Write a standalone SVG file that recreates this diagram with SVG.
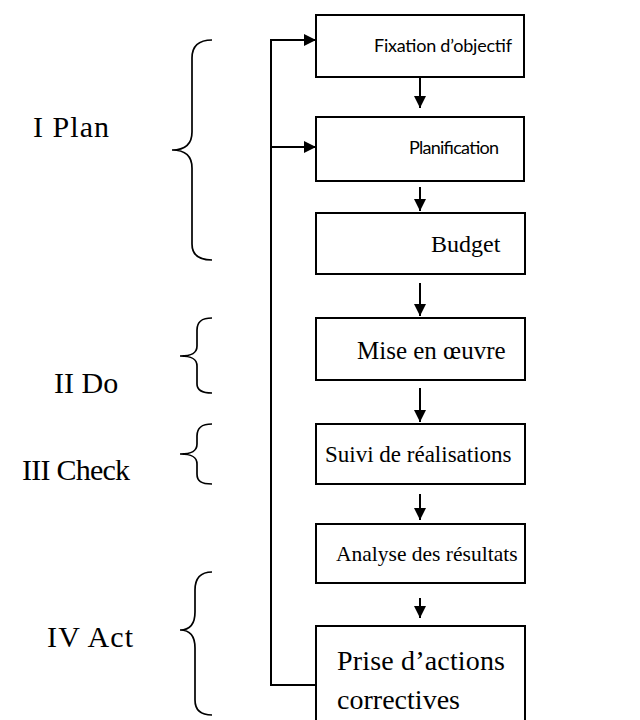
<svg xmlns="http://www.w3.org/2000/svg" width="640" height="720" viewBox="0 0 640 720">
  <style>
    .box { fill: #ffffff; stroke: #000000; stroke-width: 2; }
    .line { fill: none; stroke: #000000; stroke-width: 2; }
    .brace { fill: none; stroke: #000000; stroke-width: 1.7; }
    .serif { font-family: "Liberation Serif", "Times New Roman", serif; fill: #000000; }
    .sans { font-family: Lato, "Noto Sans", sans-serif; font-size: 18px; fill: #000000; }
    .phase { font-family: "Liberation Serif", "Times New Roman", serif; font-size: 30px; fill: #000000; }
  </style>
  <defs>
    <marker id="head" viewBox="0 0 12 12" refX="12" refY="6" markerWidth="12" markerHeight="12" markerUnits="userSpaceOnUse" orient="auto">
      <path d="M0,0 L12,6 L0,12 Z" fill="#000000"/>
    </marker>
  </defs>
  <rect width="640" height="720" fill="#ffffff"/>

  <!-- phase labels with braces -->
  <g id="phase-plan">
    <text class="phase" x="33" y="137" textLength="76">I Plan</text>
    <path class="brace" d="M212,40 C198,40 192,46 192,58 L192,132 C192,144 186,150 172,150 C186,150 192,156 192,168 L192,244 C192,254 198,260 212,260"/>
  </g>
  <g id="phase-do">
    <text class="phase" x="54" y="393">II Do</text>
    <path class="brace" d="M212,318 C201,318 197,322 197,330 L197,346 C197,353 192,356 180,356 C192,356 197,359 197,366 L197,384 C197,390 201,393 212,393"/>
  </g>
  <g id="phase-check">
    <text class="phase" x="22" y="480" textLength="108">III Check</text>
    <path class="brace" d="M212,424 C201,424 197,428 197,436 L197,444 C197,451 192,454 180,454 C192,454 197,457 197,464 L197,474 C197,481 201,484 212,484"/>
  </g>
  <g id="phase-act">
    <text class="phase" x="47" y="647" textLength="86">IV Act</text>
    <path class="brace" d="M212,572 C200,572 195,578 195,590 L195,612 C195,624 190,630 180,630 C190,630 195,636 195,648 L195,700 C195,710 200,715 212,715"/>
  </g>

  <!-- process steps -->
  <g id="step-objectif">
    <rect class="box" x="316" y="15" width="208" height="62"/>
    <text class="sans" x="374" y="52" textLength="138">Fixation d’objectif</text>
  </g>
  <g id="step-planification">
    <rect class="box" x="316" y="117" width="208" height="64"/>
    <text class="sans" x="409" y="154" textLength="90">Planification</text>
  </g>
  <g id="step-budget">
    <rect class="box" x="316" y="213" width="209" height="61"/>
    <text class="serif" x="431" y="252" font-size="24">Budget</text>
  </g>
  <g id="step-mise-en-oeuvre">
    <rect class="box" x="316" y="318" width="209" height="62"/>
    <text class="serif" x="357" y="359" font-size="25">Mise en œuvre</text>
  </g>
  <g id="step-suivi">
    <rect class="box" x="316" y="424" width="209" height="60"/>
    <text class="serif" x="325" y="462" font-size="23">Suivi de réalisations</text>
  </g>
  <g id="step-analyse">
    <rect class="box" x="316" y="524" width="209" height="59"/>
    <text class="serif" x="336" y="561" font-size="21.5">Analyse des résultats</text>
  </g>
  <g id="step-actions">
    <rect class="box" x="316" y="626" width="209" height="100"/>
    <text class="serif" x="337" y="670" font-size="28" textLength="168">Prise d’actions</text>
    <text class="serif" x="337" y="709" font-size="28" textLength="123">correctives</text>
  </g>

  <!-- connectors -->
  <g id="connectors">
    <line class="line" x1="420" y1="77" x2="420" y2="108" marker-end="url(#head)"/>
    <line class="line" x1="420" y1="187" x2="420" y2="211" marker-end="url(#head)"/>
    <line class="line" x1="420" y1="283" x2="420" y2="316" marker-end="url(#head)"/>
    <line class="line" x1="420" y1="388" x2="420" y2="422" marker-end="url(#head)"/>
    <line class="line" x1="420" y1="494" x2="420" y2="520" marker-end="url(#head)"/>
    <line class="line" x1="420" y1="598" x2="420" y2="618" marker-end="url(#head)"/>
    <!-- feedback loop from corrective actions back to planning steps -->
    <path class="line" d="M316,685 L271,685 L271,40 L316,40" marker-end="url(#head)"/>
    <line class="line" x1="271" y1="147" x2="316" y2="147" marker-end="url(#head)"/>
  </g>
</svg>
